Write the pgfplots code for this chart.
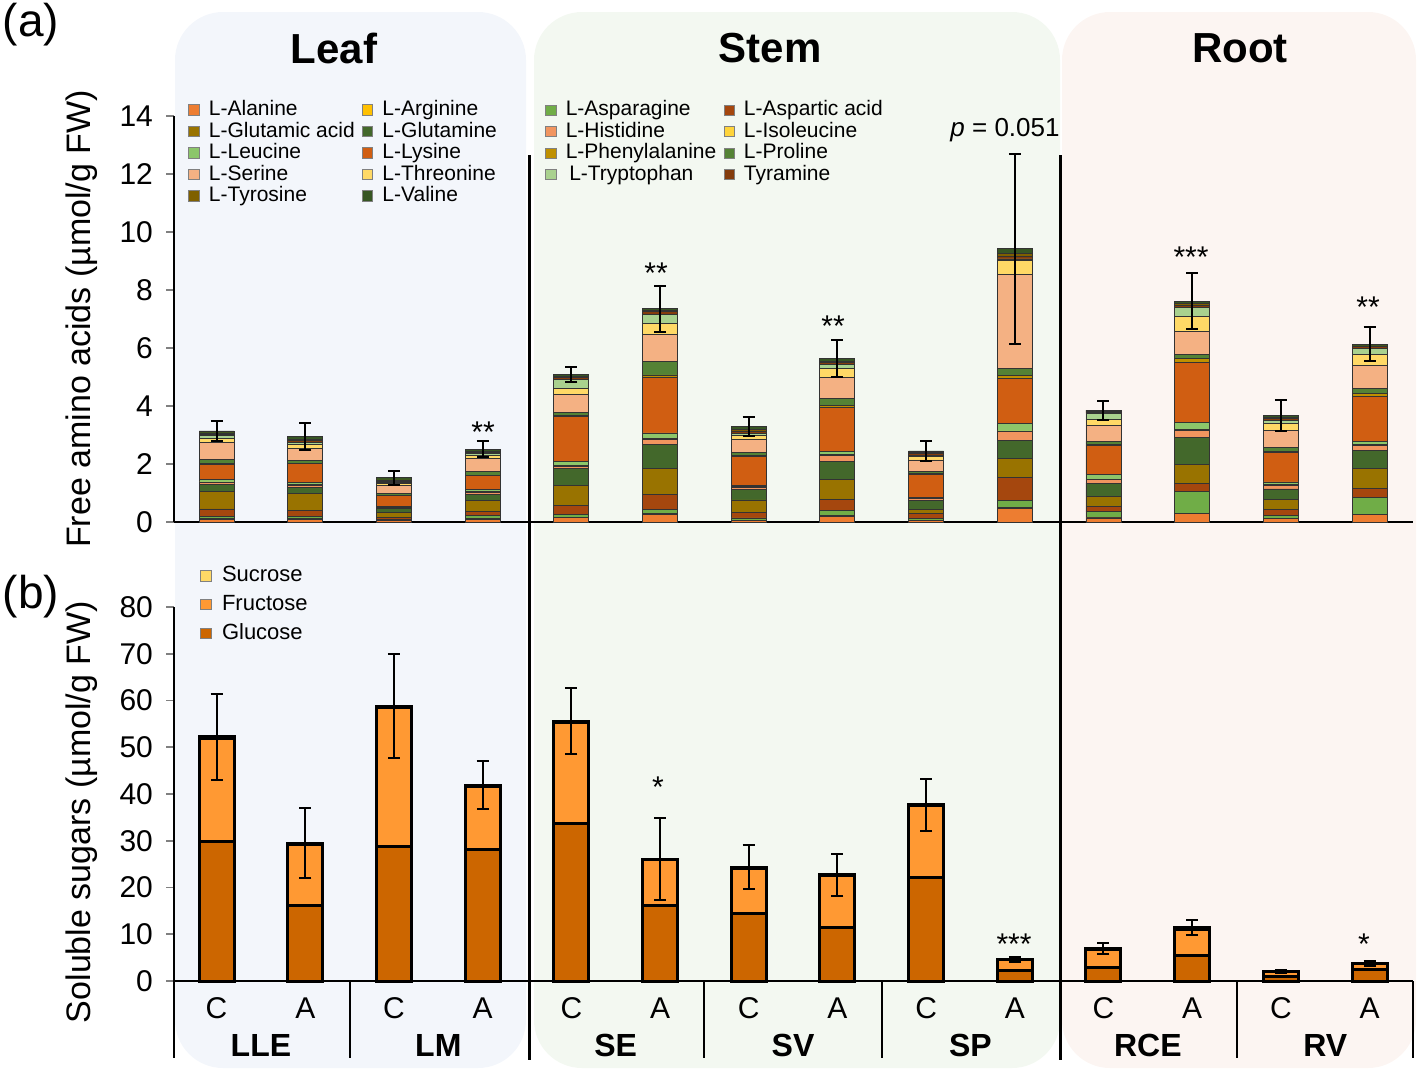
\documentclass[border=0pt]{standalone}
\usepackage{pgfplots}
\pgfplotsset{compat=1.18}
\usepackage{pgfplotstable}
\usepackage{fontspec}
\setmainfont{Liberation Sans}

% amino acid colours (stacking order = alphabetical)
\definecolor{cAla}{HTML}{ED7D31}
\definecolor{cArg}{HTML}{FFC000}
\definecolor{cAsn}{HTML}{70AD47}
\definecolor{cAsp}{HTML}{A5470E}
\definecolor{cGlu}{HTML}{997300}
\definecolor{cGln}{HTML}{43682B}
\definecolor{cHis}{HTML}{F1955F}
\definecolor{cIle}{HTML}{FFD43B}
\definecolor{cLeu}{HTML}{8CC66A}
\definecolor{cLys}{HTML}{D05E12}
\definecolor{cPhe}{HTML}{BF9000}
\definecolor{cPro}{HTML}{548235}
\definecolor{cSer}{HTML}{F4B183}
\definecolor{cThr}{HTML}{FFD966}
\definecolor{cTrp}{HTML}{A9D18E}
\definecolor{cTym}{HTML}{843C0C}
\definecolor{cTyr}{HTML}{7F6000}
\definecolor{cVal}{HTML}{375623}
\definecolor{cGlc}{HTML}{CC6600}
\definecolor{cFru}{HTML}{FF9933}
\definecolor{cSuc}{HTML}{FFD966}
\definecolor{bgLeaf}{HTML}{F3F6FB}
\definecolor{bgStem}{HTML}{F3F8F1}
\definecolor{bgRoot}{HTML}{FCF5F2}

\pgfplotstableread{
x Ala  Arg  Asn  Asp  Glu  Gln  His  Ile  Leu  Lys  Phe  Pro  Ser  Thr  Trp  Tym  Tyr  Val  tot  err
0  0.10 0.02 0.08 0.25 0.60 0.25 0.06 0.02 0.08 0.53 0.03 0.15 0.56 0.15 0.10 0.05 0.04 0.07 3.14 0.35
1  0.10 0.02 0.08 0.20 0.60 0.20 0.07 0.02 0.07 0.65 0.02 0.10 0.40 0.15 0.06 0.06 0.05 0.09 2.94 0.46
2  0.04 0.01 0.03 0.08 0.17 0.13 0.04 0.01 0.04 0.35 0.02 0.08 0.25 0.08 0.04 0.04 0.04 0.08 1.53 0.24
3  0.10 0.02 0.10 0.15 0.38 0.20 0.08 0.02 0.06 0.48 0.02 0.12 0.46 0.12 0.04 0.04 0.04 0.08 2.51 0.27
4  0.15 0.02 0.08 0.32 0.69 0.57 0.10 0.03 0.14 1.55 0.04 0.10 0.60 0.23 0.30 0.06 0.04 0.07 5.09 0.27
5  0.26 0.02 0.15 0.53 0.90 0.80 0.20 0.03 0.18 1.90 0.10 0.45 0.95 0.38 0.30 0.10 0.04 0.06 7.35 0.80
6  0.05 0.01 0.08 0.20 0.42 0.35 0.08 0.02 0.05 1.00 0.03 0.10 0.46 0.15 0.06 0.08 0.05 0.10 3.29 0.33
7  0.20 0.02 0.18 0.37 0.69 0.64 0.20 0.02 0.12 1.50 0.08 0.23 0.74 0.30 0.14 0.08 0.04 0.08 5.63 0.63
8  0.05 0.01 0.06 0.17 0.14 0.32 0.05 0.01 0.05 0.78 0.02 0.08 0.40 0.11 0.04 0.06 0.04 0.06 2.45 0.33
9  0.48 0.02 0.25 0.78 0.67 0.62 0.30 0.02 0.26 1.54 0.11 0.26 3.22 0.49 0.05 0.10 0.10 0.15 9.42 3.27
10 0.14 0.01 0.20 0.18 0.35 0.46 0.12 0.02 0.15 1.02 0.03 0.10 0.56 0.18 0.23 0.04 0.03 0.04 3.86 0.33
11 0.28 0.02 0.75 0.29 0.66 0.93 0.23 0.02 0.26 2.07 0.14 0.13 0.78 0.54 0.30 0.08 0.04 0.10 7.62 0.95
12 0.12 0.01 0.10 0.20 0.35 0.36 0.12 0.02 0.10 1.03 0.03 0.12 0.60 0.23 0.12 0.06 0.04 0.06 3.67 0.54
13 0.25 0.02 0.57 0.31 0.71 0.61 0.18 0.02 0.12 1.53 0.11 0.16 0.80 0.38 0.21 0.06 0.03 0.06 6.13 0.58
}\amino

\pgfplotstableread{
x  glc  fru  suc  tot  err
0  29.9 22.0 0.3 52.2 9.1
1  16.1 13.2 0.2 29.5 7.5
2  28.8 29.7 0.3 58.8 11.1
3  28.1 13.5 0.3 41.9 5.1
4  33.8 21.5 0.3 55.6 7.1
5  16.1 9.8  0.2 26.1 8.8
6  14.5 9.6  0.2 24.3 4.7
7  11.5 11.0 0.2 22.7 4.5
8  22.2 15.3 0.2 37.7 5.6
9  2.2  2.3  0.1 4.6  0.5
10 2.9  3.9  0.2 7.0  1.2
11 5.4  5.6  0.4 11.4 1.6
12 0.9  1.1  0.1 2.1  0.3
13 2.5  1.2  0.1 3.8  0.5
}\sugar

\pgfplotsset{
  panel/.style={scale only axis, width=619.5pt, xmin=-0.48, xmax=13.49, ymin=0, clip=false},
  sq/.style={legend image code/.code={\draw[##1] (0pt,-2.6pt) rectangle (5.2pt,2.6pt); \path (9.2pt,0pt);}},
  errs/.style={draw=none, mark=none,
    error bars/.cd, y dir=both, y explicit,
    error bar style={draw=black, solid, line width=1pt},
    error mark options={draw=black, solid, rotate=90, mark size=3pt, line width=1pt}},
}

\begin{document}
\begin{tikzpicture}
\path[use as bounding box] (0,0) rectangle (709pt,-536.5pt);
\fill[bgLeaf, rounded corners=24pt] (87.5pt,-6pt) rectangle (263pt,-534pt);
\fill[bgStem, rounded corners=24pt] (267pt,-6pt) rectangle (530pt,-534pt);
\fill[bgRoot, rounded corners=24pt] (531pt,-6pt) rectangle (708pt,-534pt);

\node[font=\bfseries\fontsize{21}{21}\selectfont] at (167pt,-24pt) {Leaf};
\node[font=\bfseries\fontsize{21}{21}\selectfont] at (385pt,-24pt) {Stem};
\node[font=\bfseries\fontsize{21}{21}\selectfont] at (620pt,-24pt) {Root};
\node[font=\fontsize{23}{23}\selectfont] at (15.5pt,-12.5pt) {(a)};
\node[font=\fontsize{23}{23}\selectfont] at (15.5pt,-298.5pt) {(b)};
\node[rotate=90, font=\fontsize{17}{17}\selectfont] at (41pt,-159.5pt) {Free amino acids (µmol/g FW)};
\node[rotate=90, font=\fontsize{17}{17}\selectfont] at (41pt,-406pt) {Soluble sugars (µmol/g FW)};

% ---------- (a) free amino acids ----------
\begin{axis}[panel, at={(87pt,-261pt)}, anchor=south west, height=203pt,
  ymax=14, ybar stacked, bar width=17.5pt,
  axis x line*=bottom, axis y line*=left, axis line style={-, line width=0.8pt},
  xtick=\empty, ytick={0,2,...,14}, tick align=outside, major tick length=4pt,
  ytick style={line width=0.8pt},
  tick label style={font=\fontsize{15}{15}\selectfont},
  /pgf/number format/assume math mode=true, yticklabel style={xshift=-3pt},
  sq, legend columns=2, legend cell align=left,
  legend style={at={(axis description cs:0.0113,1.042)}, anchor=north west,
    draw=none, fill=none, inner sep=0pt, font=\fontsize{10.5}{10.5}\selectfont,
    nodes={inner sep=0.6pt, text height=7.5pt, text depth=2.05pt},
    /tikz/every even column/.append style={column sep=3pt}},
  every axis plot/.append style={draw=black!80, line width=0.45pt},
]
\pgfplotsinvokeforeach{Ala,Arg,Asn,Asp,Glu,Gln,His,Ile,Leu,Lys,Phe,Pro,Ser,Thr,Trp,Tym,Tyr,Val}{
  \addplot[fill=c#1, forget plot] table[x=x, y=#1] {\amino};
}
\addlegendimage{fill=cAla, draw=black!50}\addlegendentry{L-Alanine}
\addlegendimage{fill=cArg, draw=black!50}\addlegendentry{L-Arginine}
\addlegendimage{fill=cGlu, draw=black!50}\addlegendentry{L-Glutamic acid}
\addlegendimage{fill=cGln, draw=black!50}\addlegendentry{L-Glutamine}
\addlegendimage{fill=cLeu, draw=black!50}\addlegendentry{L-Leucine}
\addlegendimage{fill=cLys, draw=black!50}\addlegendentry{L-Lysine}
\addlegendimage{fill=cSer, draw=black!50}\addlegendentry{L-Serine}
\addlegendimage{fill=cThr, draw=black!50}\addlegendentry{L-Threonine}
\addlegendimage{fill=cTyr, draw=black!50}\addlegendentry{L-Tyrosine}
\addlegendimage{fill=cVal, draw=black!50}\addlegendentry{L-Valine}
\end{axis}

\begin{axis}[panel, at={(87pt,-261pt)}, anchor=south west, height=203pt,
  ymax=14, hide axis,
  sq, legend columns=2, legend cell align=left,
  legend style={at={(axis description cs:0.2994,1.042)}, anchor=north west,
    draw=none, fill=none, inner sep=0pt, font=\fontsize{10.5}{10.5}\selectfont,
    nodes={inner sep=0.6pt, text height=7.5pt, text depth=2.05pt},
    /tikz/every even column/.append style={column sep=3pt}},
]
\addplot[forget plot, errs] table[x=x, y=tot, y error=err] {\amino};
\addlegendimage{fill=cAsn, draw=black!50}\addlegendentry{L-Asparagine}
\addlegendimage{fill=cAsp, draw=black!50}\addlegendentry{L-Aspartic acid}
\addlegendimage{fill=cHis, draw=black!50}\addlegendentry{L-Histidine}
\addlegendimage{fill=cIle, draw=black!50}\addlegendentry{L-Isoleucine}
\addlegendimage{fill=cPhe, draw=black!50}\addlegendentry{L-Phenylalanine}
\addlegendimage{fill=cPro, draw=black!50}\addlegendentry{L-Proline}
\addlegendimage{fill=cTrp, draw=black!50}\addlegendentry{\,L-Tryptophan}
\addlegendimage{fill=cTym, draw=black!50}\addlegendentry{Tyramine}
\end{axis}

% ---------- (b) soluble sugars ----------
\begin{axis}[panel, at={(87pt,-490.5pt)}, anchor=south west, height=187pt,
  ymax=80, ybar stacked, bar width=17.5pt,
  axis x line*=bottom, axis y line*=left, axis line style={-, line width=0.8pt},
  xtick={0,...,13}, xticklabels={C,A,C,A,C,A,C,A,C,A,C,A,C,A},
  major x tick style={draw=none}, xtick align=inside,
  xticklabel style={anchor=center, yshift=-13.5pt},
  ytick={0,10,...,80}, ytick align=outside, major tick length=4pt,
  ytick style={line width=0.8pt},
  tick label style={font=\fontsize{15}{15}\selectfont},
  /pgf/number format/assume math mode=true, yticklabel style={xshift=-3pt},
  sq, legend cell align=left,
  legend style={at={(axis description cs:0.021,1.123)}, anchor=north west,
    draw=none, fill=none, inner sep=0pt, font=\fontsize{11}{11}\selectfont,
    nodes={inner sep=1.2pt, text height=9pt, text depth=3pt}},
  every axis plot/.append style={draw=black, line width=1.5pt},
]
\addplot[fill=cGlc, forget plot] table[x=x, y=glc] {\sugar};
\addplot[fill=cFru, forget plot] table[x=x, y=fru] {\sugar};
\addplot[fill=cSuc, forget plot] table[x=x, y=suc] {\sugar};
\addlegendimage{fill=cSuc, draw=black!50, line width=0.4pt}\addlegendentry{Sucrose}
\addlegendimage{fill=cFru, draw=black!50, line width=0.4pt}\addlegendentry{Fructose}
\addlegendimage{fill=cGlc, draw=black!50, line width=0.4pt}\addlegendentry{Glucose}
\draw[line width=1pt] (axis cs:1.5,0) -- ++(0pt,-38.5pt);
\draw[line width=1pt] (axis cs:5.5,0) -- ++(0pt,-38.5pt);
\draw[line width=1pt] (axis cs:7.5,0) -- ++(0pt,-38.5pt);
\draw[line width=1pt] (axis cs:11.5,0) -- ++(0pt,-38.5pt);
\draw[line width=0.8pt] (axis cs:-0.48,0) -- ++(0pt,-38.5pt);
\draw[line width=1pt] (axis cs:13.49,0) -- ++(0pt,-38.5pt);
\node[font=\bfseries\fontsize{16}{16}\selectfont] at ([yshift=-32pt]axis cs:0.5,0) {LLE};
\node[font=\bfseries\fontsize{16}{16}\selectfont] at ([yshift=-32pt]axis cs:2.5,0) {LM};
\node[font=\bfseries\fontsize{16}{16}\selectfont] at ([yshift=-32pt]axis cs:4.5,0) {SE};
\node[font=\bfseries\fontsize{16}{16}\selectfont] at ([yshift=-32pt]axis cs:6.5,0) {SV};
\node[font=\bfseries\fontsize{16}{16}\selectfont] at ([yshift=-32pt]axis cs:8.5,0) {SP};
\node[font=\bfseries\fontsize{16}{16}\selectfont] at ([yshift=-32pt]axis cs:10.5,0) {RCE};
\node[font=\bfseries\fontsize{16}{16}\selectfont] at ([yshift=-32pt]axis cs:12.5,0) {RV};
\end{axis}

\begin{axis}[panel, at={(87pt,-490.5pt)}, anchor=south west, height=187pt,
  ymax=80, hide axis]
\addplot[errs] table[x=x, y=tot, y error=err] {\sugar};
\end{axis}

% separators between organs
\draw[line width=1.5pt] (264.5pt,-77.5pt) -- (264.5pt,-530pt);
\draw[line width=1.5pt] (530pt,-77.5pt) -- (530pt,-530pt);

% significance marks
\begin{scope}[every node/.style={font=\fontsize{15}{15}\selectfont, anchor=base}]
\node at (241.5pt,-221pt) {**};
\node at (328pt,-141.5pt) {**};
\node at (416.5pt,-168pt) {**};
\node at (595.5pt,-133.5pt) {***};
\node at (684pt,-158.5pt) {**};
\node at (329pt,-398.5pt) {*};
\node at (507pt,-477pt) {***};
\node at (682pt,-477pt) {*};
\end{scope}
\node[font=\fontsize{13}{13}\selectfont] at (502.5pt,-65pt) {\textit{p} = 0.051};
\end{tikzpicture}
\end{document}
